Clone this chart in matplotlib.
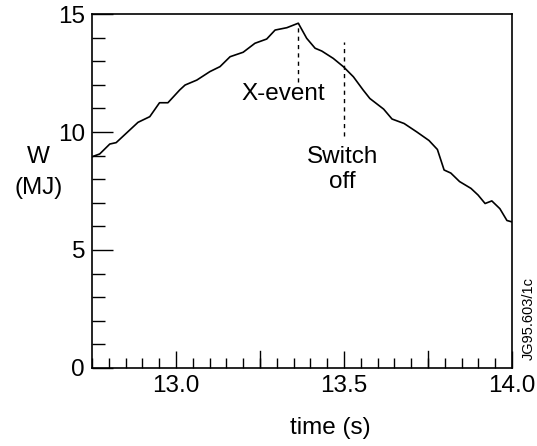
import matplotlib.pyplot as plt
from matplotlib.ticker import MultipleLocator, FixedLocator

plt.rcParams['font.family'] = ['Liberation Sans', 'DejaVu Sans']

# stored energy trace
time_s = [12.75, 12.773, 12.803, 12.822, 12.887, 12.922, 12.951, 12.976, 13.011,
          13.027, 13.062, 13.101, 13.131, 13.161, 13.20, 13.235, 13.27, 13.295,
          13.33, 13.364, 13.389, 13.414, 13.434, 13.468, 13.498, 13.528, 13.557,
          13.577, 13.618, 13.643, 13.679, 13.717, 13.753, 13.778, 13.798, 13.818,
          13.844, 13.878, 13.899, 13.920, 13.940, 13.964, 13.985, 14.0]
energy_mj = [8.95, 9.07, 9.49, 9.55, 10.41, 10.65, 11.24, 11.24, 11.78,
             11.99, 12.20, 12.56, 12.77, 13.19, 13.38, 13.76, 13.94, 14.32,
             14.42, 14.61, 13.97, 13.55, 13.43, 13.12, 12.77, 12.34, 11.78,
             11.42, 10.97, 10.55, 10.36, 10.00, 9.64, 9.26, 8.39, 8.26,
             7.90, 7.61, 7.33, 6.97, 7.08, 6.75, 6.25, 6.19]

xevent_t = 13.363
xevent_span = [12.1, 14.6]
switch_t = 13.5
switch_span = [9.85, 13.8]

fig = plt.figure(figsize=(5.37, 4.46), dpi=100)
ax = fig.add_axes([0.1713, 0.1749, 0.7821, 0.7937])

ax.plot(time_s, energy_mj, color='black', lw=1.2)
ax.plot([xevent_t, xevent_t], xevent_span, color='black', lw=1.0, ls=(0, (3, 3)))
ax.plot([switch_t, switch_t], switch_span, color='black', lw=1.0, ls=(0, (3, 3)))

ax.text(13.318, 11.6, 'X-event', fontsize=17.5, ha='center', va='center')
ax.text(13.495, 8.95, 'Switch', fontsize=17.5, ha='center', va='center')
ax.text(13.495, 7.9, 'off', fontsize=17.5, ha='center', va='center')

ax.set_xlim(12.75, 14.0)
ax.set_ylim(0, 15)

ax.xaxis.set_major_locator(FixedLocator([13.0, 13.5, 14.0]))
ax.xaxis.set_minor_locator(MultipleLocator(0.05))
ax.set_xticklabels(['13.0', '13.5', '14.0'])
ax.yaxis.set_major_locator(MultipleLocator(5))
ax.yaxis.set_minor_locator(MultipleLocator(1))

# the quarter-second marks are a bit longer than the rest
for t in [13.25, 13.75]:
    ax.plot([t, t], [0, 0.72], color='black', lw=1.0)

ax.tick_params(axis='x', which='major', direction='in', length=12, width=1.0,
               labelsize=17.5, pad=5)
ax.tick_params(axis='x', which='minor', direction='in', length=7, width=1.0)
ax.tick_params(axis='y', which='major', direction='in', length=15, width=1.0,
               labelsize=17.5, pad=5)
ax.tick_params(axis='y', which='minor', direction='in', length=9, width=1.0)

for side in ax.spines.values():
    side.set_linewidth(1.2)

ax.set_xlabel('time (s)', fontsize=17.5)
ax.xaxis.set_label_coords(0.567, -0.169)
ax.xaxis.label.set_va('center')

fig.text(0.071, 0.648, 'W', fontsize=17.5, ha='center', va='center')
fig.text(0.071, 0.578, '(MJ)', fontsize=17.5, ha='center', va='center')
fig.text(0.985, 0.285, 'JG95.603/1c', fontsize=10.5, rotation=90,
         ha='center', va='center')

fig.savefig('out.png', dpi=100)
